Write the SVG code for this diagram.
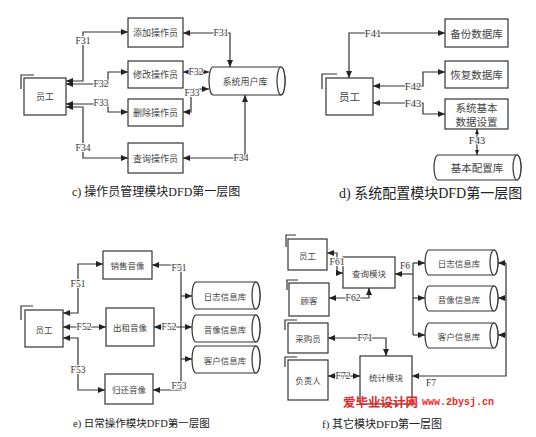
<svg xmlns="http://www.w3.org/2000/svg" width="536" height="437" viewBox="0 0 536 437">
<style>
.bx{fill:#fff;stroke:#333;stroke-width:1.2}
.br{fill:none;stroke:#333;stroke-width:1.2}
.ln{fill:none;stroke:#333;stroke-width:1.2}
.t{font-family:"Noto Sans CJK SC",sans-serif;font-size:9px;fill:#444;text-anchor:middle;dominant-baseline:central}
.t8{font-size:8.5px}
.t10{font-size:10.5px}
.lb{font-family:"Liberation Serif","Noto Sans CJK SC",serif;font-size:9.5px;fill:#333;text-anchor:middle;dominant-baseline:central;stroke:#fff;stroke-width:2;paint-order:stroke;stroke-linejoin:round}
.lb10{font-size:10.5px}
.cap{font-family:"Liberation Serif","Noto Sans CJK SC",serif;fill:#222;dominant-baseline:central}
.wm{fill:#e8282a;font-weight:bold}
</style>
<defs>
<marker id="ar" viewBox="0 0 7 6" refX="7" refY="3" markerWidth="7" markerHeight="6" markerUnits="userSpaceOnUse" orient="auto-start-reverse"><path d="M0,0 L7,3 L0,6 Z" fill="#222"/></marker>
<marker id="as" viewBox="0 0 5 4" refX="5" refY="2" markerWidth="5" markerHeight="4" markerUnits="userSpaceOnUse" orient="auto-start-reverse"><path d="M0,0 L5,2 L0,4 Z" fill="#222"/></marker>
</defs>

<!-- ===== c ===== -->
<g id="c-yg"><path class="br" d="M21,89 V75 H34"/><rect class="bx" x="24" y="78" width="42" height="37"/><text class="t" x="45" y="96.5">员工</text></g>
<g id="c-add"><rect class="bx" x="128" y="18" width="55" height="29"/><text class="t" x="155.5" y="32.5">添加操作员</text></g>
<g id="c-mod"><rect class="bx" x="128" y="61" width="55" height="27"/><text class="t" x="155.5" y="74.5">修改操作员</text></g>
<g id="c-del"><rect class="bx" x="128" y="99" width="55" height="27"/><text class="t" x="155.5" y="112.5">删除操作员</text></g>
<g id="c-qry"><rect class="bx" x="128" y="143" width="55" height="30"/><text class="t" x="155.5" y="158">查询操作员</text></g>
<g id="c-db"><path class="bx" d="M213,67 H281 A4,14 0 0 1 281,95 H213 A4,14 0 0 1 213,67 Z"/><ellipse class="bx" cx="281" cy="81" rx="4" ry="14"/><text class="t" x="245" y="81">系统用户库</text></g>

<!-- ===== d ===== -->
<g id="d-yg"><path class="br" d="M322,89 V74 H337"/><rect class="bx" x="326" y="78" width="47" height="37"/><text class="t t10" x="349.5" y="96.5">员工</text></g>
<g id="d-bak"><rect class="bx" x="445" y="19" width="63" height="28"/><text class="t t10" x="476.5" y="33">备份数据库</text></g>
<g id="d-res"><rect class="bx" x="445" y="61" width="63" height="27"/><text class="t t10" x="476.5" y="74.5">恢复数据库</text></g>
<g id="d-set"><rect class="bx" x="445" y="99" width="63" height="30"/><text class="t t10" x="476.5" y="107.5">系统基本</text><text class="t t10" x="476.5" y="121.5">数据设置</text></g>
<g id="d-db"><path class="bx" d="M438,155 H517 A4,12.5 0 0 1 517,180 H438 A4,12.5 0 0 1 438,155 Z"/><ellipse class="bx" cx="517" cy="167.5" rx="4" ry="12.5"/><text class="t t10" x="477" y="167.5">基本配置库</text></g>

<!-- ===== e ===== -->
<g id="e-yg"><path class="br" d="M21,320 V306 H33"/><rect class="bx" x="25" y="310" width="38" height="37"/><text class="t t8" x="44" y="328.5">员工</text></g>
<g id="e-sale"><rect class="bx" x="103" y="251" width="49" height="28"/><text class="t t8" x="127.5" y="265">销售音像</text></g>
<g id="e-rent"><rect class="bx" x="106" y="308" width="48" height="38"/><text class="t t8" x="130" y="327">出租音像</text></g>
<g id="e-ret"><rect class="bx" x="105" y="374" width="48" height="30"/><text class="t t8" x="129" y="389">归还音像</text></g>
<g id="e-log"><path class="bx" d="M196,282 H256 A4,13.5 0 0 1 256,309 H196 A4,13.5 0 0 1 196,282 Z"/><ellipse class="bx" cx="256" cy="295.5" rx="4" ry="13.5"/><text class="t t8" x="225" y="295.5">日志信息库</text></g>
<g id="e-av"><path class="bx" d="M196,315 H256 A4,13.5 0 0 1 256,342 H196 A4,13.5 0 0 1 196,315 Z"/><ellipse class="bx" cx="256" cy="328.5" rx="4" ry="13.5"/><text class="t t8" x="225" y="328.5">音像信息库</text></g>
<g id="e-cus"><path class="bx" d="M196,346 H256 A4,13.5 0 0 1 256,373 H196 A4,13.5 0 0 1 196,346 Z"/><ellipse class="bx" cx="256" cy="359.5" rx="4" ry="13.5"/><text class="t t8" x="225" y="359.5">客户信息库</text></g>

<!-- ===== f ===== -->
<g id="f-yg"><path class="br" d="M286,247 V235 H296"/><rect class="bx" x="288" y="239" width="39" height="31"/><text class="t t8" x="307.5" y="254.5">员工</text></g>
<g id="f-gk"><path class="br" d="M287,290 V280 H298"/><rect class="bx" x="289" y="283" width="40" height="33"/><text class="t t8" x="309" y="299.5">顾客</text></g>
<g id="f-cg"><path class="br" d="M285,330 V320 H297"/><rect class="bx" x="288" y="323" width="40" height="30"/><text class="t t8" x="308" y="338">采购员</text></g>
<g id="f-fz"><path class="br" d="M285,367 V357 H297"/><rect class="bx" x="288" y="360" width="40" height="40"/><text class="t t8" x="308" y="380">负责人</text></g>
<g id="f-qry"><rect class="bx" x="343" y="257" width="52" height="31"/><text class="t t8" x="369" y="272.5">查询模块</text></g>
<g id="f-stat"><rect class="bx" x="360" y="356" width="52" height="48"/><text class="t t8" x="386" y="377">统计模块</text></g>
<g id="f-log"><path class="bx" d="M429,250 H494 A4,12.5 0 0 1 494,275 H429 A4,12.5 0 0 1 429,250 Z"/><ellipse class="bx" cx="494" cy="262.5" rx="4" ry="12.5"/><text class="t t8" x="459" y="262.5">日志信息库</text></g>
<g id="f-av"><path class="bx" d="M429,286 H494 A4,12.5 0 0 1 494,311 H429 A4,12.5 0 0 1 429,286 Z"/><ellipse class="bx" cx="494" cy="298.5" rx="4" ry="12.5"/><text class="t t8" x="459" y="298.5">音像信息库</text></g>
<g id="f-cus"><path class="bx" d="M429,323 H494 A4,12.5 0 0 1 494,348 H429 A4,12.5 0 0 1 429,323 Z"/><ellipse class="bx" cx="494" cy="335.5" rx="4" ry="12.5"/><text class="t t8" x="459" y="335.5">客户信息库</text></g>

<!-- ===== connectors ===== -->
<g id="connectors">
<g class="ln" marker-start="url(#ar)" marker-end="url(#ar)">
<path d="M66,81 H83 V32 H128"/>
<path d="M66,84 H108 V72 H128"/>
<path d="M66,104 H108 V112 H128"/>
<path d="M66,107 H83 V158 H128"/>
<path d="M183,33 H230 V67"/>
<path d="M183,72 H209"/>
<path d="M183,112 H191 V89 H209"/>
<path d="M183,158 H245 V95"/>
<path d="M349,78 V33 H445"/>
<path d="M373,86 H423 V72 H445"/>
<path d="M373,103 H423 V114 H445"/>
<path d="M63,313 H78 V264 H103"/>
<path d="M63,327 H106"/>
<path d="M63,338 H78 V390 H105"/>
<path d="M152,265 H181 V390 H153"/>
<path d="M154,327 H192"/>
<path d="M327,253 H337 V273 H343"/>
<path d="M329,298 H369 V288"/>
<path d="M328,338 H386 V356"/>
<path d="M328,376 H360"/>
</g>
<path class="ln" d="M477,129 V155" marker-start="url(#as)" marker-end="url(#as)"/>
<g class="ln" marker-end="url(#ar)">
<path d="M181,296 H192"/>
<path d="M181,359 H192"/>
<path d="M413,263 H425"/>
<path d="M413,298 H425"/>
<path d="M413,335 H425"/>
<path d="M506,263 H498"/>
<path d="M506,298 H498"/>
<path d="M506,335 H498"/>
<path d="M506,263 V376 H412"/>
</g>
<path class="ln" d="M395,274 H413" marker-start="url(#ar)"/>
<path class="ln" d="M413,263 V335"/>
<text class="lb" x="83" y="41">F31</text>
<text class="lb" x="101" y="84">F32</text>
<text class="lb" x="101" y="103">F33</text>
<text class="lb" x="83" y="148">F34</text>
<text class="lb" x="221" y="33">F31</text>
<text class="lb" x="196" y="72">F32</text>
<text class="lb" x="192" y="93">F33</text>
<text class="lb" x="241" y="158">F34</text>
<text class="lb lb10" x="373" y="33">F41</text>
<text class="lb lb10" x="413" y="86">F42</text>
<text class="lb lb10" x="413" y="103">F43</text>
<text class="lb lb10" x="477" y="140">F43</text>
<text class="lb" x="78" y="284">F51</text>
<text class="lb" x="84" y="327">F52</text>
<text class="lb" x="78" y="370">F53</text>
<text class="lb" x="179" y="268">F51</text>
<text class="lb" x="169" y="327">F52</text>
<text class="lb" x="179" y="386">F53</text>
<text class="lb" x="337" y="262">F61</text>
<text class="lb" x="353" y="298">F62</text>
<text class="lb" x="405" y="266">F6</text>
<text class="lb" x="431" y="383">F7</text>
<text class="lb" x="365" y="338">F71</text>
<text class="lb" x="343" y="376">F72</text>
</g>

<!-- captions -->
<text class="cap" x="72" y="192" font-size="12">c) 操作员管理模块DFD第一层图</text>
<text class="cap" x="339" y="193" font-size="14">d) 系统配置模块DFD第一层图</text>
<text class="cap" x="73" y="423" font-size="10.5">e) 日常操作模块DFD第一层图</text>
<text class="cap" x="322" y="424" font-size="11">f) 其它模块DFD第一层图</text>

<!-- watermark -->
<text class="wm" x="343" y="407" font-family="Noto Sans CJK SC, sans-serif" font-size="12.5">爱毕业设计网</text>
<text class="wm" x="422" y="405" font-family="Liberation Mono, monospace" font-size="10">www.2bysj.cn</text>
</svg>
